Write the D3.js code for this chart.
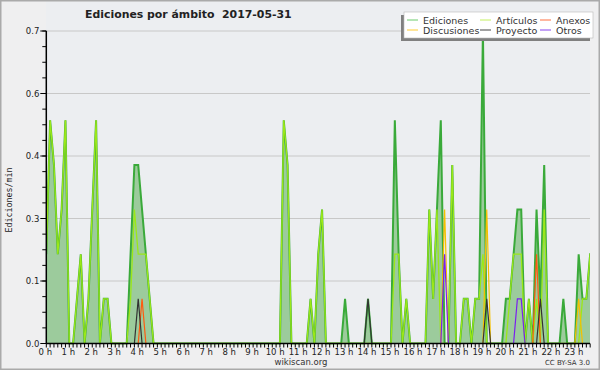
<!DOCTYPE html>
<meta charset="utf-8">
<head>
    <title>Ediciones por ámbito</title>
    <script src="https://d3js.org/d3.v7.min.js"></script>
</head>
<style type="text/css">
body{
    margin: 0;
    background: #f0f0f0;
}
svg text{
    font-family: "DejaVu Sans", sans-serif;
    fill: #222;
}
</style>
<body>
    <svg id="chart" width="600" height="370"></svg>

    <script type="text/javascript">
        // 10 minute bins, 144 per day (edits/min)
        var ediciones = [
            0.2,0.5,0.4,0.2,0.3,0.5, 0,0,0.1,0.2,0,0.1,
            0.3,0.5,0,0.1,0.1,0, 0,0,0,0,0.2,0.4,
            0.4,0.3,0.2,0.1,0,0, 0,0,0,0,0,0,
            0,0,0,0,0,0, 0,0,0,0,0,0,
            0,0,0,0,0,0, 0,0,0,0,0,0,
            0,0,0.5,0.4,0,0, 0,0,0,0.1,0,0.2,
            0.3,0,0,0,0,0, 0.1,0,0,0,0,0,
            0.1,0,0,0,0,0, 0,0.5,0.2,0,0.1,0,
            0,0,0,0,0.3,0.1, 0.3,0.5,0,0,0.4,0,
            0,0.1,0.1,0,0.1,0.1, 0.7,0,0,0,0,0,
            0.1,0.1,0.2,0.3,0.3,0, 0.1,0,0.3,0.1,0.4,0,
            0,0,0,0.1,0,0, 0,0.2,0.1,0.1,0.2,0.2
        ];
        var articulos = [
            0.2,0.5,0.4,0.2,0.3,0.5, 0,0,0.1,0.2,0,0.1,
            0.3,0.5,0,0.1,0.1,0, 0,0,0,0,0.1,0.3,
            0.2,0.2,0.2,0.1,0,0, 0,0,0,0,0,0,
            0,0,0,0,0,0, 0,0,0,0,0,0,
            0,0,0,0,0,0, 0,0,0,0,0,0,
            0,0,0.5,0.4,0,0, 0,0,0,0.1,0,0.2,
            0.3,0,0,0,0,0, 0,0,0,0,0,0,
            0,0,0,0,0,0, 0,0.2,0.2,0,0.1,0,
            0,0,0,0,0.3,0.1, 0.3,0,0,0,0.4,0,
            0,0.1,0.1,0,0.1,0.1, 0.2,0,0,0,0,0,
            0,0.1,0.2,0.2,0.2,0, 0.1,0,0.1,0,0.3,0,
            0,0,0,0,0,0, 0,0,0.1,0.1,0.2,0.2
        ];
        // the small series, as [bin, value]
        var anexos = [[25, 0.1], [128, 0.2]];
        var discusiones = [[104, 0.3], [115, 0.3], [139, 0.1]];
        var proyecto = [[24, 0.1], [84, 0.1], [115, 0.1], [129, 0.1]];
        var otros = [[104, 0.2], [123, 0.1], [124, 0.1]];

        var hourLabels = d3.range(24).map(function(h){ return h + " h"; });
        var yTicks = [0, 0.14, 0.28, 0.42, 0.56, 0.7];

        var legendItems = [
            {name: "Ediciones",   color: "#6ccc6c"},
            {name: "Discusiones", color: "#ffcc33"},
            {name: "Artículos",   color: "#c4f060"},
            {name: "Proyecto",    color: "#444444"},
            {name: "Anexos",      color: "#ff7040"},
            {name: "Otros",       color: "#8844ee"}
        ];

        function expand(pairs) {
            var arr = ediciones.map(function(){ return 0; });
            pairs.forEach(function(p){ arr[p[0]] = p[1]; });
            return arr;
        }

        var svg = d3.select("#chart");
        var plotL = 46.3, plotR = 590, plotT = 31, plotB = 343.5;

        svg.append("rect").attr("width", 600).attr("height", 370).attr("fill", "#efeff0");
        svg.append("rect").attr("x", plotL).attr("y", 0).attr("width", plotR - plotL).attr("height", plotB)
            .attr("fill", "#eceef1");

        var x = d3.scaleLinear().domain([0, 144]).range([plotL, plotL + 3.83 * 144]);
        var y = d3.scaleLinear().domain([0, 0.7]).range([plotB, plotT]);

        svg.append("clipPath").attr("id", "clip")
            .append("rect").attr("x", plotL).attr("y", 0).attr("width", plotR - plotL).attr("height", plotB + 1);

        // grid
        svg.append("g").selectAll("line").data(yTicks.slice(1)).enter().append("line")
            .attr("x1", plotL).attr("x2", plotR)
            .attr("y1", function(d){ return y(d); }).attr("y2", function(d){ return y(d); })
            .attr("stroke", "#c8c8c8").attr("stroke-width", 1);

        var plot = svg.append("g").attr("clip-path", "url(#clip)");

        var area = d3.area()
            .x(function(d, i){ return x(i); })
            .y0(y(0))
            .y1(function(d){ return y(d); });
        var line = d3.line()
            .x(function(d, i){ return x(i); })
            .y(function(d){ return y(d); });

        plot.append("path").datum(ediciones).attr("d", area).attr("fill", "#9ccb9c");
        plot.append("path").datum(ediciones).attr("d", line)
            .attr("fill", "none").attr("stroke", "#3aaa3a").attr("stroke-width", 2);
        plot.append("path").datum(articulos).attr("d", line)
            .attr("fill", "none").attr("stroke", "#9be818").attr("stroke-width", 1.3);

        var others = [
            {data: expand(anexos), color: "#ff5a10"},
            {data: expand(discusiones), color: "#f5c000"},
            {data: expand(proyecto), color: "#333333"},
            {data: expand(otros), color: "#7a1ff0"}
        ];
        others.forEach(function(s){
            plot.append("path").datum(s.data).attr("d", line)
                .attr("fill", "none").attr("stroke", s.color).attr("stroke-width", 1.2);
        });

        // x axis
        var xAxis = svg.append("g").attr("transform", "translate(0," + plotB + ")");
        xAxis.selectAll("line.tick").data(d3.range(0, 143)).enter().append("line")
            .attr("x1", function(d){ return x(d); }).attr("x2", function(d){ return x(d); })
            .attr("y1", 0).attr("y2", 4).attr("stroke", "#000");
        xAxis.append("line").attr("x1", plotL).attr("x2", plotR).attr("stroke", "#000").attr("stroke-width", 1.5);
        xAxis.selectAll("text").data(hourLabels).enter().append("text")
            .attr("x", function(d, i){ return x(i * 6) - 1; })
            .attr("y", 11)
            .attr("text-anchor", "middle")
            .style("font-size", "8.5px")
            .text(function(d){ return d; });

        // y axis
        var yAxis = svg.append("g");
        yAxis.selectAll("line.minor").data(d3.range(0, 21)).enter().append("line")
            .attr("x1", plotL - 4).attr("x2", plotL)
            .attr("y1", function(d){ return y(d * 0.035); }).attr("y2", function(d){ return y(d * 0.035); })
            .attr("stroke", "#000");
        yAxis.selectAll("line.major").data(yTicks).enter().append("line")
            .attr("x1", plotL - 6).attr("x2", plotL)
            .attr("y1", function(d){ return y(d); }).attr("y2", function(d){ return y(d); })
            .attr("stroke", "#000");
        yAxis.append("line").attr("x1", plotL).attr("x2", plotL).attr("y1", plotT).attr("y2", plotB)
            .attr("stroke", "#000").attr("stroke-width", 1.5);
        yAxis.selectAll("text").data(yTicks).enter().append("text")
            .attr("x", plotL - 7).attr("y", function(d){ return y(d) + 3; })
            .attr("text-anchor", "end")
            .style("font-size", "8.5px")
            .text(function(d){ return d3.format(".1f")(d); });

        svg.append("text")
            .attr("transform", "translate(12,200) rotate(-90)")
            .attr("text-anchor", "middle")
            .style("font-family", "'DejaVu Sans Mono', monospace")
            .style("font-size", "8.3px")
            .text("Ediciones/min");

        // title
        svg.append("text")
            .attr("x", 85).attr("y", 18)
            .attr("xml:space", "preserve")
            .style("font-size", "10.9px").style("font-weight", "bold")
            .text("Ediciones por ámbito  2017-05-31");

        // legend
        var lg = svg.append("g");
        lg.append("rect").attr("x", 401).attr("y", 15).attr("width", 189).attr("height", 26).attr("fill", "#808080");
        lg.append("rect").attr("x", 404).attr("y", 12).attr("width", 189).attr("height", 26)
            .attr("fill", "#fff").attr("stroke", "#b8b8b8").attr("stroke-width", 0.6);
        var item = lg.selectAll("g.item").data(legendItems).enter().append("g")
            .attr("transform", function(d, i){
                var cx = [407, 480, 540][Math.floor(i / 2)];
                var cy = 20 + (i % 2) * 10;
                return "translate(" + cx + "," + cy + ")";
            });
        item.append("line").attr("x1", 0).attr("x2", 11).attr("stroke", function(d){ return d.color; });
        item.append("text").attr("x", 16).attr("y", 3.5)
            .style("font-size", "9.5px").style("fill", "#333")
            .text(function(d){ return d.name; });

        // footer
        svg.append("text").attr("x", 301).attr("y", 365).attr("text-anchor", "middle")
            .style("font-size", "8.5px").style("fill", "#333").text("wikiscan.org");
        svg.append("text").attr("x", 590).attr("y", 365).attr("text-anchor", "end")
            .style("font-size", "7px").style("fill", "#333").text("CC BY-SA 3.0");

        svg.append("rect").attr("x", 0.75).attr("y", 0.75).attr("width", 598.5).attr("height", 368.5)
            .attr("fill", "none").attr("stroke", "#aaa").attr("stroke-width", 1.5);
    </script>
</body>
